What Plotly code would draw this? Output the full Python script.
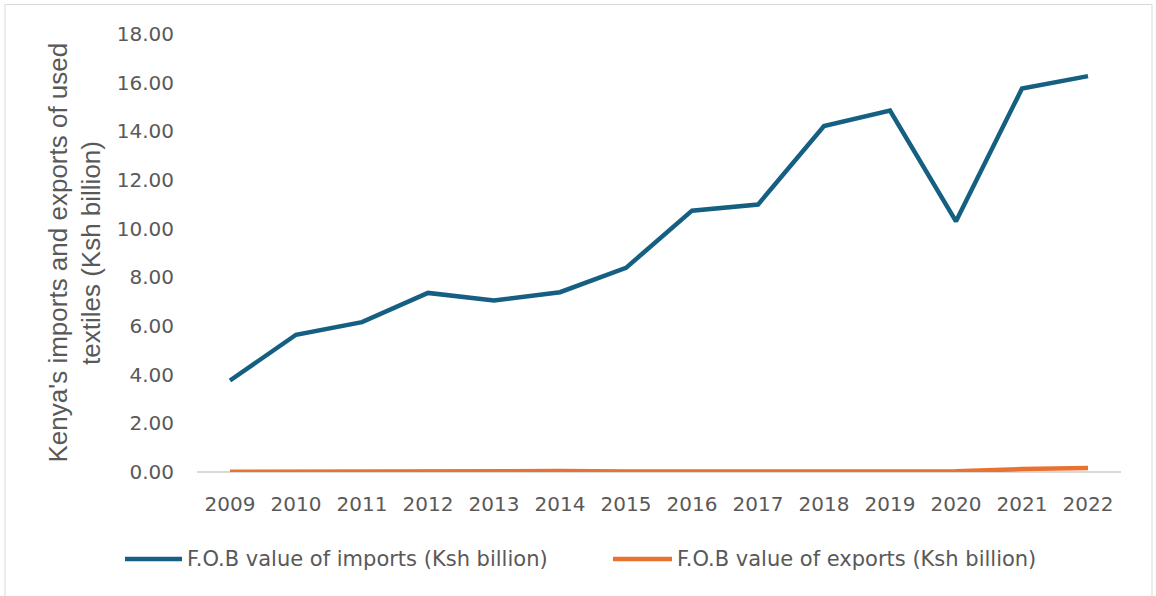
import plotly.graph_objects as go

# Kenya: F.O.B value of used-textile trade, Ksh billion
years = ["2009", "2010", "2011", "2012", "2013", "2014", "2015",
         "2016", "2017", "2018", "2019", "2020", "2021", "2022"]
imports_fob = [3.76, 5.64, 6.16, 7.36, 7.05, 7.39, 8.39,
               10.74, 10.99, 14.22, 14.85, 10.30, 15.76, 16.27]
exports_fob = [0.01, 0.02, 0.01, 0.02, 0.02, 0.04, 0.02,
               0.02, 0.04, 0.06, 0.05, 0.03, 0.12, 0.16]
y_ticks = [0, 2, 4, 6, 8, 10, 12, 14, 16, 18]

series_names = ["F.O.B value of imports (Ksh billion)",
                "F.O.B value of exports (Ksh billion)"]
blue = "#156082"
orange = "#E97132"
grey_text = "#595959"
tick_font = dict(family="DejaVu Sans", size=20, color=grey_text)
legend_font = dict(family="DejaVu Sans", size=21, color=grey_text)

fig = go.Figure()
fig.add_trace(go.Scatter(x=years, y=imports_fob, mode="lines", name=series_names[0],
                         line=dict(color=blue, width=4.5), showlegend=False))
fig.add_trace(go.Scatter(x=years, y=exports_fob, mode="lines", name=series_names[1],
                         line=dict(color=orange, width=4.5), showlegend=False))

W, H = 1156, 596
L, R, T, B = 197, 35, 34, 124
pw, ph = W - L - R, H - T - B

def px_x(x):
    return (x - L) / pw

def px_y(y):
    return (H - B - y) / ph

fig.update_layout(
    width=W, height=H,
    margin=dict(l=L, r=R, t=T, b=B),
    paper_bgcolor="white", plot_bgcolor="white",
    xaxis=dict(type="category", range=[-0.5, len(years) - 0.5],
               showgrid=False, showline=False, ticks="",
               tickfont=tick_font, ticklabelstandoff=18),
    yaxis=dict(range=[0, 18], tickvals=y_ticks, tickformat=".2f",
               showgrid=False, showline=False, ticks="",
               zeroline=True, zerolinecolor="#d9d9d9", zerolinewidth=1.5,
               tickfont=tick_font, ticklabelstandoff=22),
)

# axis title, two rotated lines
title_lines = ["Kenya's imports and exports of used", "textiles (Ksh billion)"]
for line_text, cx in zip(title_lines, [57.5, 91]):
    fig.add_annotation(text=line_text, xref="paper", yref="paper",
                       x=px_x(cx), y=0.5, textangle=-90, showarrow=False,
                       xanchor="center", yanchor="middle",
                       font=dict(family="Liberation Sans", size=26, color=grey_text))

# legend row
legend_y = px_y(559)
for name, color, x0, x1 in [(series_names[0], blue, 125, 182),
                            (series_names[1], orange, 613, 672)]:
    fig.add_shape(type="line", xref="paper", yref="paper",
                  x0=px_x(x0), x1=px_x(x1), y0=legend_y, y1=legend_y,
                  line=dict(color=color, width=4.5))
    fig.add_annotation(text=name, xref="paper", yref="paper",
                       x=px_x(x1 + 3), y=legend_y, showarrow=False,
                       xanchor="left", yanchor="middle",
                       font=legend_font)

# chart frame
fig.add_shape(type="rect", xref="paper", yref="paper",
              x0=px_x(5), x1=px_x(1152), y0=px_y(598), y1=px_y(4.5),
              line=dict(color="#d9d9d9", width=1), fillcolor="rgba(0,0,0,0)",
              layer="below")

fig.write_html("out.html")
